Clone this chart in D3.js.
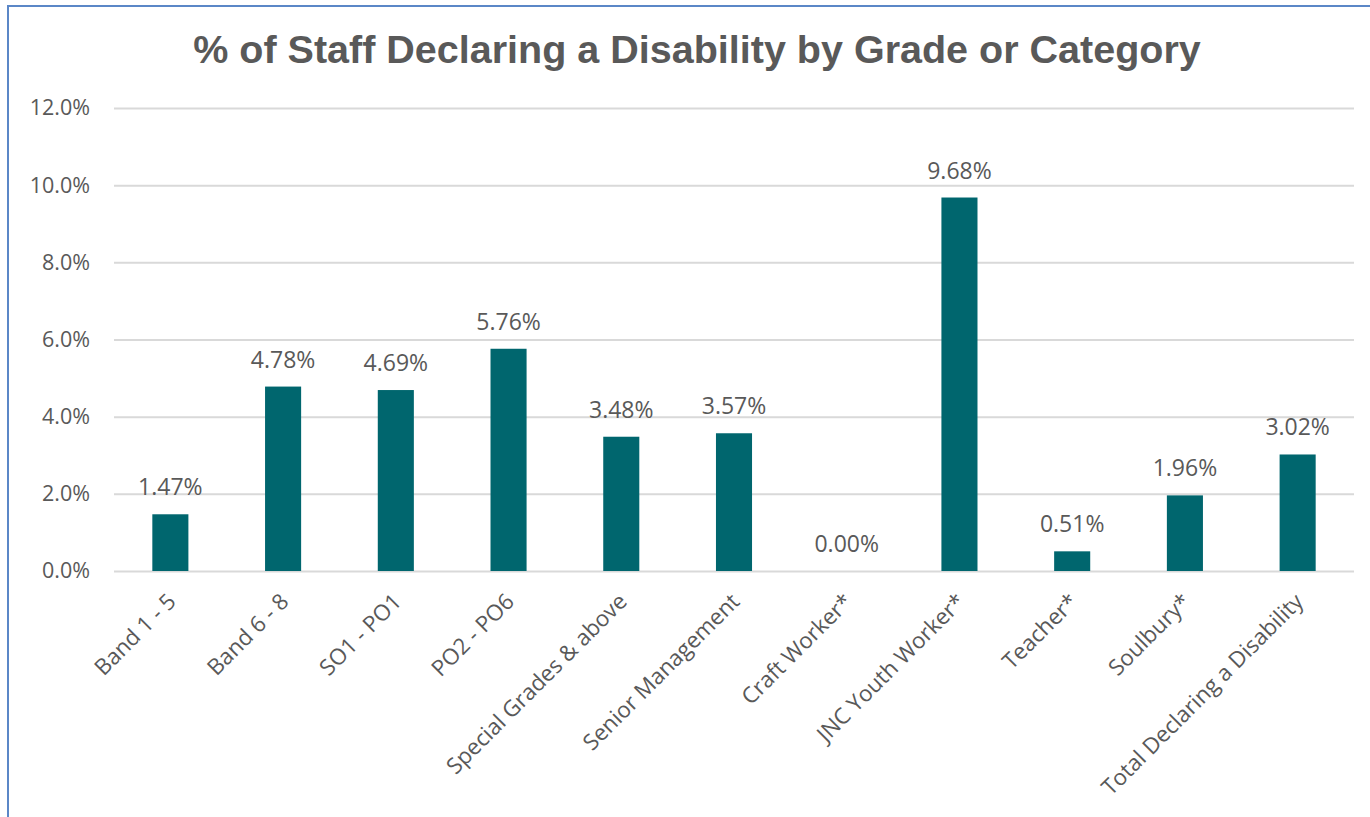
<!DOCTYPE html>
<html><head><meta charset="utf-8">
<script src="https://cdn.jsdelivr.net/npm/d3@7"></script>
<style>body{margin:0;background:#fff;}svg{display:block;}</style>
</head><body>
<svg id="c" width="1370" height="817"></svg>
<script>
const categories = ["Band 1 - 5","Band 6 - 8","SO1 - PO1","PO2 - PO6","Special Grades & above","Senior Management","Craft Worker*","JNC Youth Worker*","Teacher*","Soulbury*","Total Declaring a Disability"];
const values = [1.47,4.78,4.69,5.76,3.48,3.57,0.00,9.68,0.51,1.96,3.02];
const yTicks = [0,2,4,6,8,10,12];
const title = "% of Staff Declaring a Disability by Grade or Category";

const svg = d3.select("#c");
svg.append("rect").attr("x",8).attr("y",6).attr("width",1370).attr("height",830)
  .attr("fill","#fff").attr("stroke","#5B87C7").attr("stroke-width",2);

const m = {l:114, r:1354, t:108, b:571};
const x = d3.scaleBand().domain(categories).range([m.l,m.r]).paddingInner(0.68).paddingOuter(0.34);
const y = d3.scaleLinear().domain([0,12]).range([m.b,m.t]);

svg.append("text").attr("x",697).attr("y",63).attr("text-anchor","middle")
  .attr("font-family","Liberation Sans, Arial, sans-serif").attr("font-weight","bold")
  .attr("font-size",39.5).attr("fill","#595959").text(title);

const ya = svg.append("g").attr("transform",`translate(${m.l},0)`)
  .call(d3.axisLeft(y).tickValues(yTicks).tickSize(-(m.r-m.l)).tickFormat(d=>d.toFixed(1)+"%"));
ya.select(".domain").remove();
ya.selectAll(".tick line").attr("stroke","#d9d9d9").attr("stroke-width",2);
ya.selectAll(".tick text").attr("x",-24).attr("fill","#595959")
  .attr("font-family","Open Sans, Noto Sans, sans-serif").attr("font-size",21.5);

svg.append("g").selectAll("rect").data(values).join("rect")
  .attr("x",(d,i)=>x(categories[i])).attr("width",x.bandwidth())
  .attr("y",d=>y(d)).attr("height",d=>y(0)-y(d)).attr("fill","#00666E");

svg.append("g").selectAll("text").data(values).join("text")
  .attr("x",(d,i)=>x(categories[i])+x.bandwidth()/2).attr("y",d=>y(d)-19)
  .attr("text-anchor","middle").attr("fill","#595959")
  .attr("font-family","Open Sans, Noto Sans, sans-serif").attr("font-size",23)
  .text(d=>d.toFixed(2)+"%");

const xa = svg.append("g").attr("transform",`translate(0,${m.b})`)
  .call(d3.axisBottom(x).tickSize(0));
xa.select(".domain").remove();
xa.selectAll(".tick text").attr("fill","#595959")
  .attr("font-family","Open Sans, Noto Sans, sans-serif").attr("font-size",22.3)
  .attr("text-anchor","end").attr("dy",0).attr("y",0)
  .attr("transform","translate(7,32) rotate(-45)");
</script>
</body></html>
